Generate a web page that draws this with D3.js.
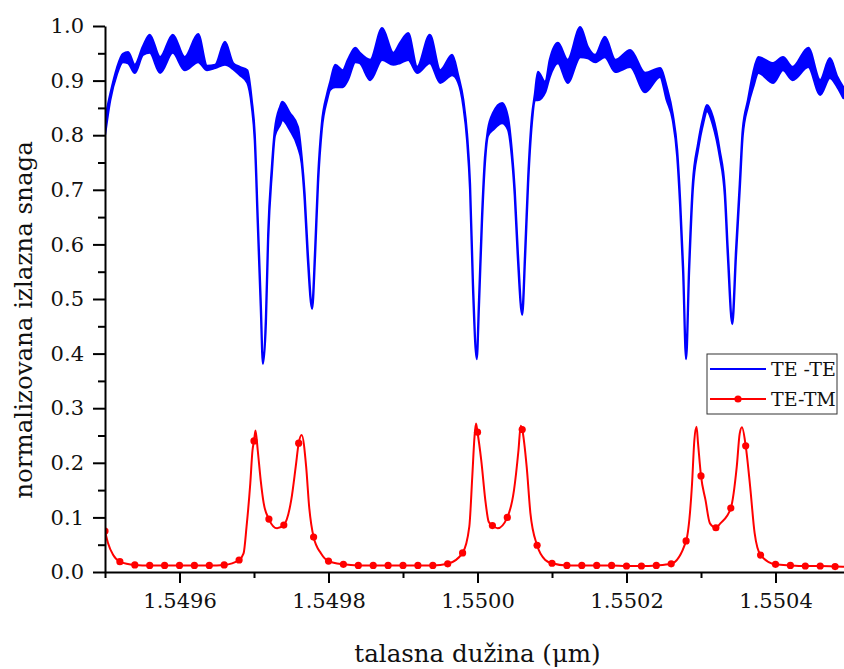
<!DOCTYPE html>
<html><head><meta charset="utf-8">
<script src="https://cdn.jsdelivr.net/npm/d3@7"></script>
<style>body{margin:0;background:#fff}svg{display:block}</style>
</head><body><svg id="c" width="844" height="669"></svg>
<script>
// ---- TE-TE (blue): wavelength (µm), upper and lower edge of the noisy trace
const teLam = [1.549500,1.549507,1.549516,1.549524,1.549531,1.549540,1.549551,1.549560,1.549574,1.549591,
1.549607,1.549625,1.549637,1.549648,1.549661,1.549672,1.549681,1.549691,1.549697,1.549701,
1.549705,1.549709,1.549712,1.549716,1.549719,1.549724,1.549728,1.549735,1.549738,1.549748,
1.549759,1.549764,1.549768,1.549772,1.549778,1.549782,1.549786,1.549791,1.549798,1.549802,
1.549809,1.549819,1.549826,1.549836,1.549842,1.549856,1.549872,1.549887,1.549896,1.549907,
1.549919,1.549936,1.549950,1.549966,1.549974,1.549981,1.549986,1.549990,1.549994,1.549999,
1.550002,1.550006,1.550010,1.550014,1.550021,1.550033,1.550041,1.550046,1.550050,1.550054,
1.550060,1.550064,1.550068,1.550073,1.550077,1.550081,1.550091,1.550097,1.550108,1.550121,
1.550138,1.550148,1.550158,1.550171,1.550185,1.550205,1.550225,1.550245,1.550254,1.550262,
1.550268,1.550272,1.550276,1.550280,1.550284,1.550289,1.550296,1.550303,1.550308,1.550316,
1.550325,1.550332,1.550336,1.550342,1.550347,1.550352,1.550356,1.550363,1.550370,1.550377,
1.550397,1.550410,1.550423,1.550444,1.550460,1.550473,1.550483,1.550491];
const teUpper = [0.830,0.875,0.923,0.949,0.952,0.929,0.963,0.984,0.943,0.984,
0.943,0.985,0.927,0.929,0.971,0.932,0.925,0.919,0.864,0.802,
0.650,0.498,0.385,0.467,0.619,0.742,0.810,0.852,0.861,0.841,
0.815,0.760,0.692,0.590,0.489,0.590,0.723,0.821,0.875,0.896,
0.929,0.919,0.938,0.960,0.951,0.938,0.996,0.951,0.969,0.987,
0.925,0.984,0.919,0.947,0.910,0.864,0.802,0.711,0.527,0.396,
0.498,0.650,0.760,0.810,0.841,0.859,0.832,0.773,0.700,0.590,
0.478,0.590,0.723,0.833,0.875,0.916,0.897,0.938,0.969,0.938,
0.998,0.962,0.947,0.980,0.938,0.956,0.914,0.923,0.888,0.839,
0.773,0.681,0.559,0.397,0.559,0.711,0.784,0.833,0.855,0.833,
0.773,0.700,0.590,0.462,0.590,0.711,0.810,0.864,0.914,0.943,
0.932,0.943,0.925,0.960,0.901,0.941,0.907,0.888];
const teLower = [0.800,0.864,0.912,0.934,0.932,0.914,0.947,0.951,0.914,0.951,
0.919,0.934,0.919,0.923,0.929,0.921,0.910,0.896,0.853,0.791,
0.639,0.487,0.381,0.456,0.608,0.731,0.799,0.819,0.828,0.810,
0.778,0.749,0.681,0.579,0.482,0.579,0.712,0.810,0.864,0.883,
0.888,0.888,0.901,0.934,0.932,0.901,0.938,0.929,0.932,0.938,
0.914,0.932,0.896,0.910,0.897,0.853,0.791,0.700,0.516,0.390,
0.487,0.639,0.749,0.799,0.810,0.822,0.810,0.762,0.689,0.579,
0.471,0.579,0.712,0.822,0.864,0.864,0.879,0.907,0.932,0.896,
0.943,0.941,0.934,0.943,0.916,0.925,0.879,0.907,0.864,0.828,
0.762,0.670,0.548,0.390,0.548,0.700,0.773,0.822,0.844,0.819,
0.762,0.689,0.579,0.454,0.579,0.700,0.799,0.853,0.888,0.914,
0.896,0.919,0.901,0.925,0.874,0.905,0.888,0.868];

// ---- TE-TM (red): marked samples
const tmMarkLam = [1.54950,1.54952,1.54954,1.54956,1.54958,1.54960,1.54962,1.54964,1.54966,1.54968,
1.54970,1.54972,1.54974,1.54976,1.54978,1.54980,1.54982,1.54984,1.54986,1.54988,
1.54990,1.54992,1.54994,1.54996,1.54998,1.55000,1.55002,1.55004,1.55006,1.55008,
1.55010,1.55012,1.55014,1.55016,1.55018,1.55020,1.55022,1.55024,1.55026,1.55028,
1.55030,1.55032,1.55034,1.55036,1.55038,1.55040,1.55042,1.55044,1.55046,1.55048,1.55050];
const tmMarkVal = [0.075,0.019,0.013,0.012,0.012,0.012,0.012,0.012,0.013,0.022,
0.240,0.097,0.086,0.236,0.064,0.020,0.014,0.012,0.012,0.012,
0.012,0.012,0.012,0.015,0.035,0.256,0.085,0.100,0.261,0.049,
0.016,0.012,0.012,0.012,0.012,0.011,0.011,0.012,0.015,0.057,
0.176,0.081,0.117,0.231,0.031,0.014,0.012,0.011,0.011,0.010,0.009];
// ---- TE-TM (red): unmarked samples between the markers
const tmLineLam = [1.549504,1.549511,1.549686,1.549690,1.549695,1.549698,1.549702,1.549705,1.549709,1.549713,
1.549731,1.549750,1.549756,1.549764,1.549770,1.549774,1.549790,
1.549989,1.549993,1.549996,1.549998,1.550005,1.550011,1.550015,1.550027,1.550049,1.550055,1.550058,
1.550066,1.550071,1.550091,
1.550288,1.550291,1.550294,1.550296,1.550306,1.550312,1.550326,1.550348,1.550352,1.550355,1.550366,1.550372];
const tmLineVal = [0.053,0.031,0.034,0.083,0.162,0.223,0.259,0.223,0.168,0.126,
0.080,0.132,0.193,0.251,0.193,0.120,0.034,
0.083,0.175,0.248,0.272,0.205,0.126,0.092,0.080,0.150,0.223,0.268,
0.193,0.108,0.022,
0.162,0.240,0.266,0.236,0.132,0.089,0.089,0.193,0.254,0.265,0.156,0.071];

const xTicks = [1.5496,1.5498,1.5500,1.5502,1.5504];
const xMinorTicks = [1.5495,1.5497,1.5499,1.5501,1.5503,1.5505];
const yTicks = [0.0,0.1,0.2,0.3,0.4,0.5,0.6,0.7,0.8,0.9,1.0];
const yMinorTicks = [0.05,0.15,0.25,0.35,0.45,0.55,0.65,0.75,0.85,0.95];
const seriesNames = ["TE -TE","TE-TM"];
const seriesColors = ["#0000ff","#ff0000"];
const xTitle = "talasna dužina (μm)";
const yTitle = "normalizovana izlazna snaga";

const W=844,H=669;
const FONT="'DejaVu Serif', serif";
const svg=d3.select("#c");
const x=d3.scaleLinear().domain([1.5495,1.5505]).range([105,850]);
const y=d3.scaleLinear().domain([0,1]).range([572,26]);

svg.append("defs").append("clipPath").attr("id","clip")
  .append("rect").attr("x",x.range()[0]).attr("y",0).attr("width",W-x.range()[0]).attr("height",y(0));

const plot=svg.append("g").attr("clip-path","url(#clip)");

// blue band
const teData=teLam.map((l,i)=>({l,u:teUpper[i],d:teLower[i]}));
plot.append("path").datum(teData)
  .attr("d",d3.area().x(d=>x(d.l)).y0(d=>y(d.d)).y1(d=>y(d.u)).curve(d3.curveMonotoneX))
  .attr("fill",seriesColors[0]).attr("stroke",seriesColors[0]).attr("stroke-width",2.2).attr("stroke-linejoin","round");

// red line
const marks=tmMarkLam.map((l,i)=>({l,v:tmMarkVal[i]}));
const lineData=marks.concat(tmLineLam.map((l,i)=>({l,v:tmLineVal[i]}))).sort((a,b)=>a.l-b.l);
plot.append("path").datum(lineData)
  .attr("d",d3.line().x(d=>x(d.l)).y(d=>y(d.v)).curve(d3.curveMonotoneX))
  .attr("fill","none").attr("stroke",seriesColors[1]).attr("stroke-width",2);
plot.selectAll("circle.m").data(marks).enter().append("circle").attr("class","m")
  .attr("cx",d=>x(d.l)).attr("cy",d=>y(d.v)).attr("r",3.6).attr("fill",seriesColors[1]);

// axes
const fmtX=d3.format(".4f"), fmtY=d3.format(".1f");
const gx=svg.append("g").attr("transform",`translate(0,${y(0)})`);
gx.call(d3.axisBottom(x).tickValues(xTicks).tickFormat(fmtX).tickSize(11).tickSizeOuter(0).tickPadding(10));
const gxm=svg.append("g").attr("transform",`translate(0,${y(0)})`);
gxm.call(d3.axisBottom(x).tickValues(xMinorTicks).tickFormat("").tickSize(6).tickSizeOuter(0));
const gy=svg.append("g").attr("transform",`translate(${x.range()[0]},0)`);
gy.call(d3.axisLeft(y).tickValues(yTicks).tickFormat(fmtY).tickSize(12).tickSizeOuter(0).tickPadding(9));
const gym=svg.append("g").attr("transform",`translate(${x.range()[0]},0)`);
gym.call(d3.axisLeft(y).tickValues(yMinorTicks).tickFormat("").tickSize(7).tickSizeOuter(0));
[gx,gxm,gy,gym].forEach(g=>{
  g.selectAll(".domain").attr("stroke","#000").attr("stroke-width",2);
  g.selectAll(".tick line").attr("stroke","#000").attr("stroke-width",2);
  g.selectAll(".tick text").attr("font-family",FONT).attr("font-size",21).attr("fill","#111");
});
gxm.select(".domain").remove(); gym.select(".domain").remove();

// titles
svg.append("text").attr("x",(x.range()[0]+x.range()[1])/2).attr("y",662)
  .attr("text-anchor","middle").attr("font-family",FONT).attr("font-size",24.5).attr("fill","#111").text(xTitle);
svg.append("text").attr("transform",`translate(32,${(y(0)+y(1))/2+21}) rotate(-90)`)
  .attr("text-anchor","middle").attr("font-family",FONT).attr("font-size",24.5).attr("fill","#111").text(yTitle);

// legend
const lg=svg.append("g").attr("transform","translate(707,354)");
lg.append("rect").attr("width",130).attr("height",60).attr("fill","#fff").attr("stroke","#333").attr("stroke-width",1);
seriesNames.forEach((n,i)=>{
  const yy=15+i*30;
  lg.append("line").attr("x1",3).attr("x2",59).attr("y1",yy).attr("y2",yy).attr("stroke",seriesColors[i]).attr("stroke-width",2);
  if(i===1) lg.append("circle").attr("cx",31).attr("cy",yy).attr("r",3.6).attr("fill",seriesColors[i]);
  lg.append("text").attr("x",64).attr("y",yy+7).attr("font-family",FONT).attr("font-size",19).attr("fill","#111").text(n);
});
</script></body></html>
